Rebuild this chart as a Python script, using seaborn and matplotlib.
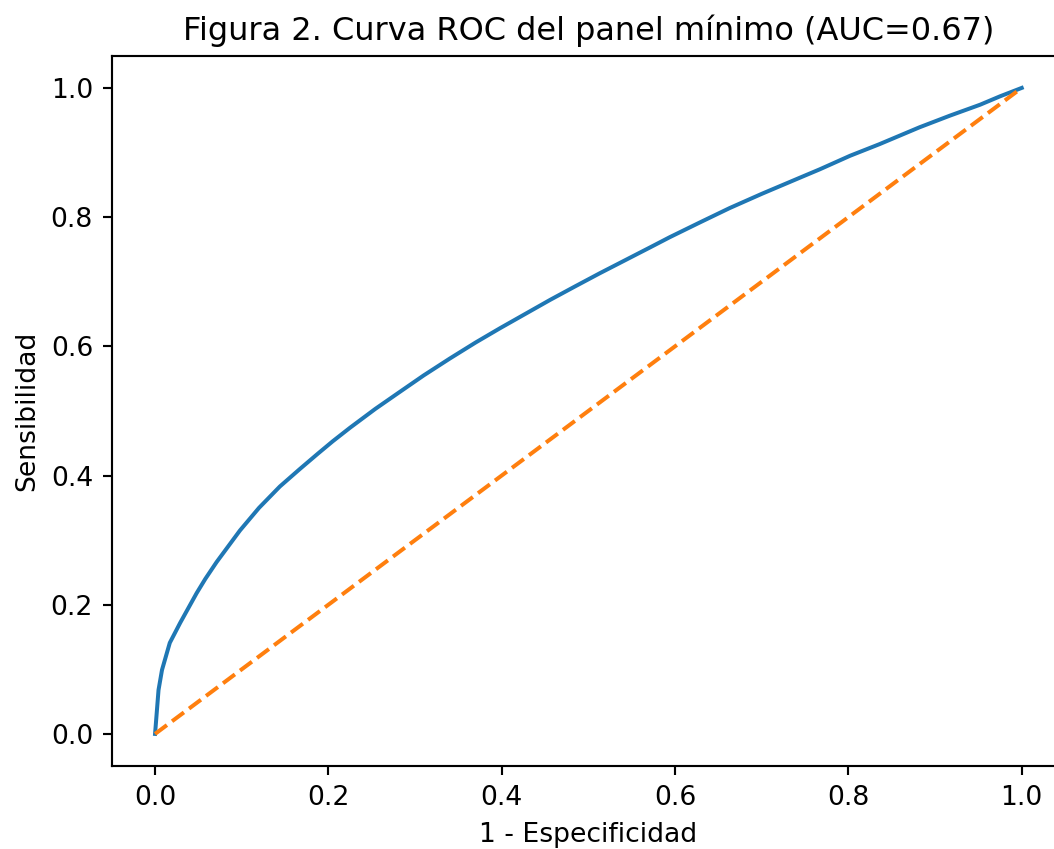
import seaborn as sns
import pandas as pd
import numpy as np
import matplotlib.pyplot as plt

# puntos de la curva ROC
fpr = [0.0, 0.004, 0.008, 0.017, 0.029, 0.048, 0.058, 0.071, 0.098, 0.120,
       0.144, 0.167, 0.188, 0.205, 0.225, 0.254, 0.283, 0.310, 0.340, 0.370,
       0.398, 0.427, 0.456, 0.485, 0.513, 0.542, 0.571, 0.594, 0.629, 0.663,
       0.700, 0.744, 0.767, 0.802, 0.836, 0.859, 0.882, 0.917, 0.952, 0.975,
       1.0]
tpr = [0.0, 0.068, 0.099, 0.141, 0.172, 0.218, 0.240, 0.266, 0.315, 0.350,
       0.383, 0.410, 0.434, 0.453, 0.474, 0.503, 0.530, 0.555, 0.581, 0.606,
       0.628, 0.650, 0.672, 0.693, 0.713, 0.733, 0.753, 0.769, 0.792, 0.814,
       0.836, 0.861, 0.874, 0.895, 0.913, 0.926, 0.939, 0.957, 0.974, 0.987,
       1.0]
diag = [0.0, 1.0]

df = pd.DataFrame({'fpr': fpr, 'tpr': tpr})

fig, ax = plt.subplots(figsize=(1054 / 192, 849 / 192), dpi=192)
# el eje derecho queda fuera del recorte, como en el original
fig.subplots_adjust(left=0.106, right=1.0105, top=0.9345, bottom=0.0975)

sns.lineplot(data=df, x='fpr', y='tpr', sort=False, estimator=None,
             color='C0', linewidth=1.5, ax=ax)
sns.lineplot(x=diag, y=diag, sort=False, estimator=None,
             color='C1', linewidth=1.5, linestyle='--', ax=ax)

ax.set_title('Figura 2. Curva ROC del panel mínimo (AUC=0.67)')
ax.set_xlabel('1 - Especificidad')
ax.set_ylabel('Sensibilidad')

fig.savefig('out.png', dpi=192)
